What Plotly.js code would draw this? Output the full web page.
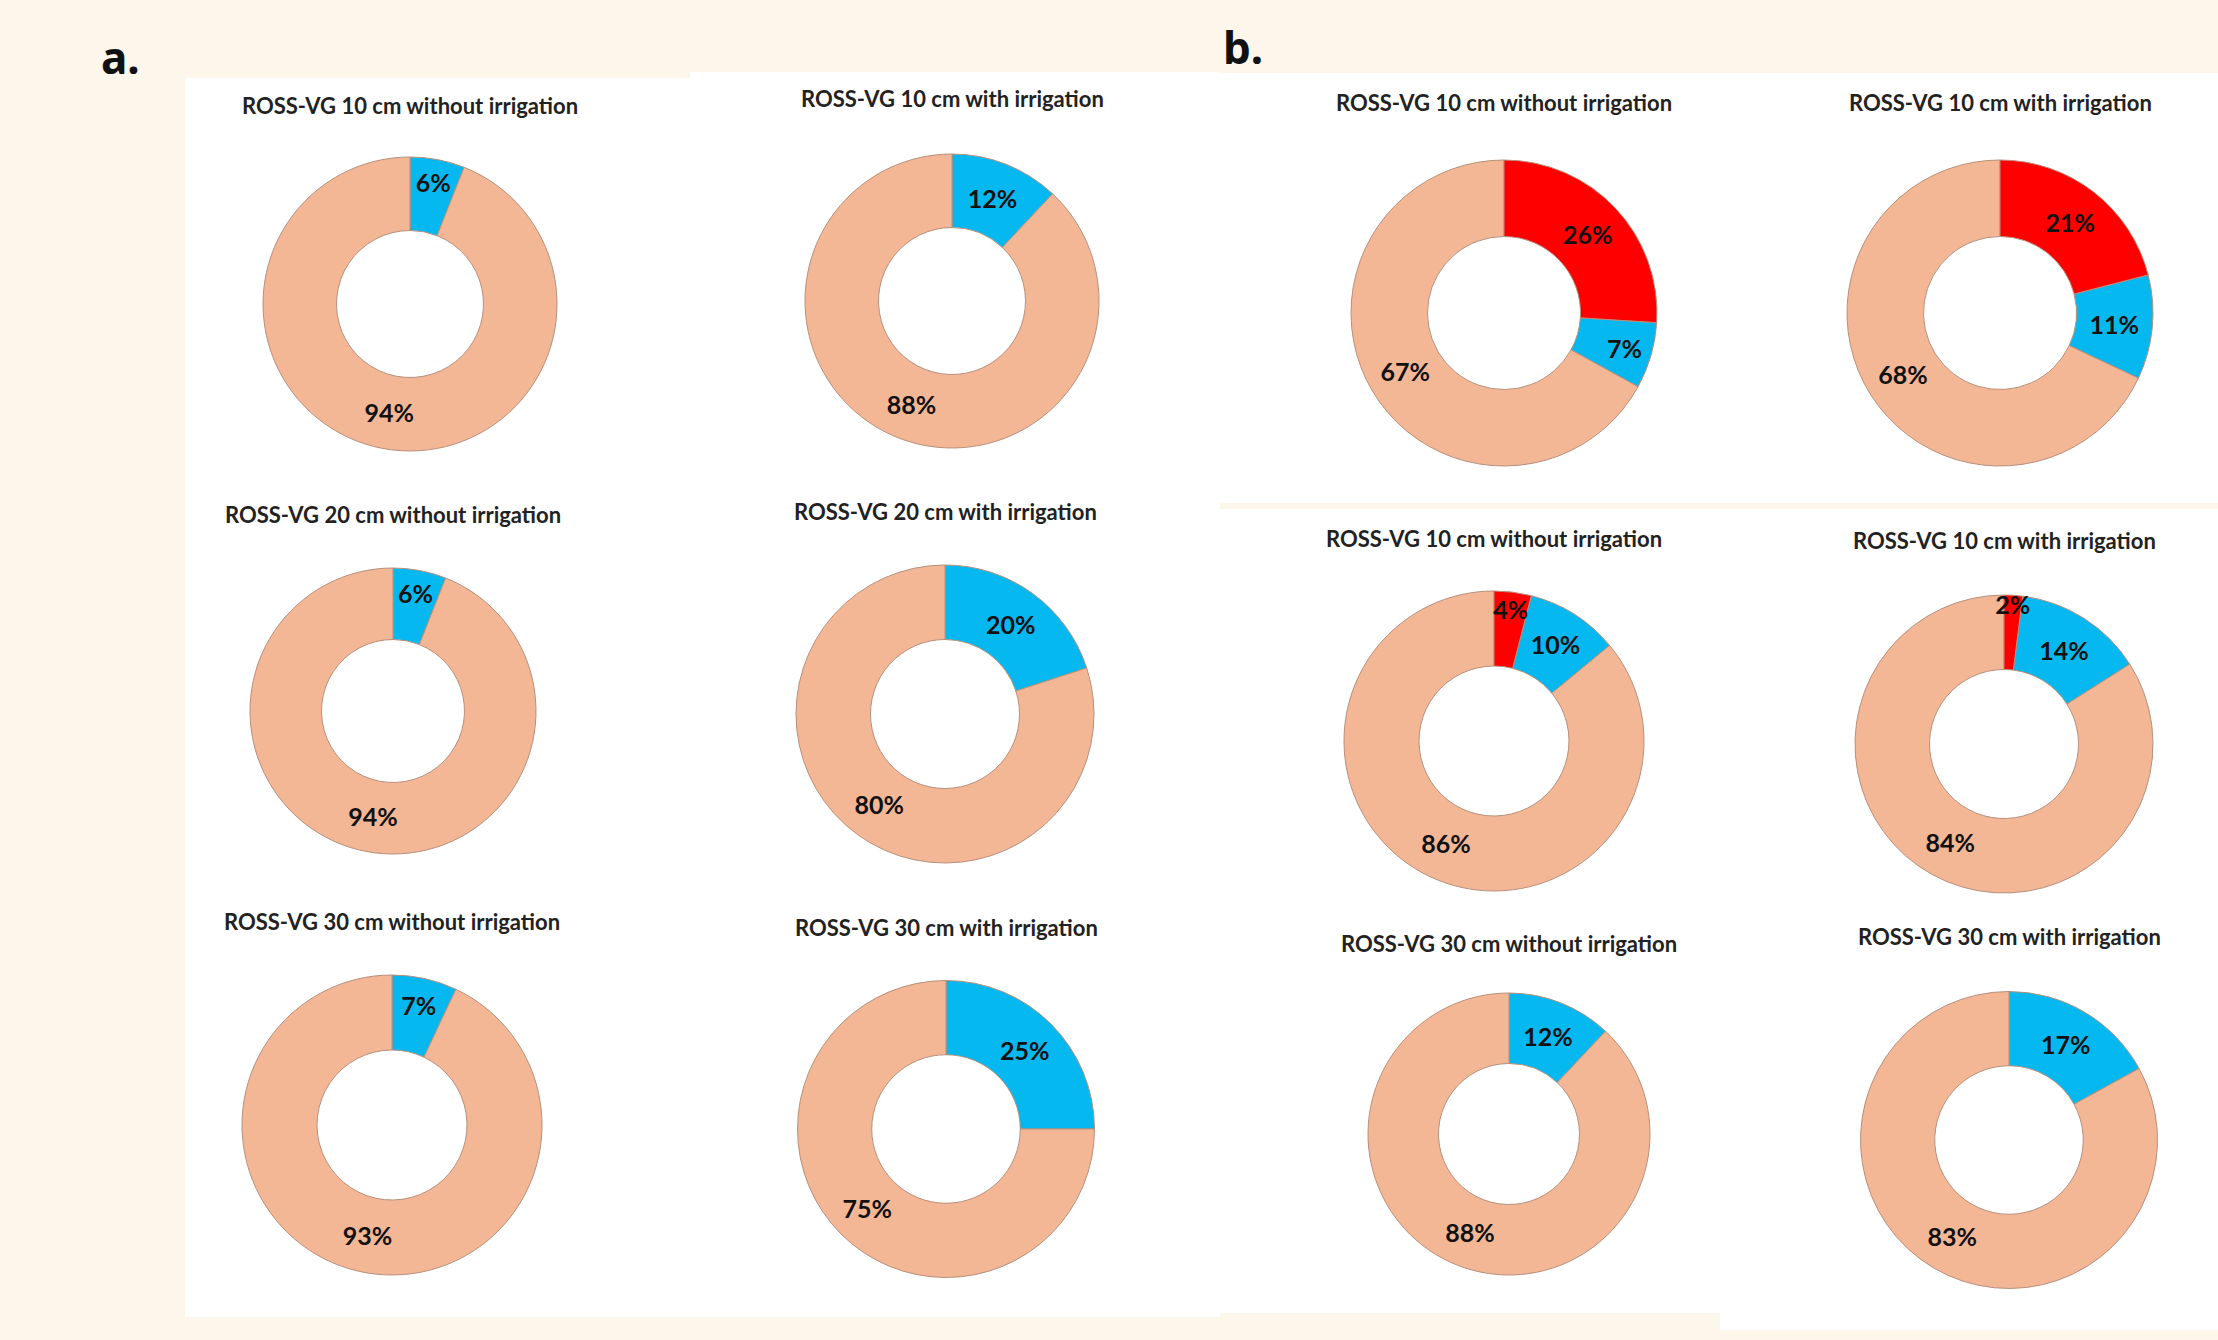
<!DOCTYPE html>
<html>
<head>
<meta charset="utf-8">
<script src="https://cdn.plot.ly/plotly-3.0.1.min.js"></script>
<style>
  html, body { margin: 0; padding: 0; background: #fdf6ea; }
  #chart { width: 2218px; height: 1340px; }
</style>
</head>
<body>
<div id="chart"></div>
<script>
// ---------- DATA ----------
const titles = [
  "ROSS-VG 10 cm without irrigation", "ROSS-VG 10 cm with irrigation",
  "ROSS-VG 20 cm without irrigation", "ROSS-VG 20 cm with irrigation",
  "ROSS-VG 30 cm without irrigation", "ROSS-VG 30 cm with irrigation",
  "ROSS-VG 10 cm without irrigation", "ROSS-VG 10 cm with irrigation",
  "ROSS-VG 10 cm without irrigation", "ROSS-VG 10 cm with irrigation",
  "ROSS-VG 30 cm without irrigation", "ROSS-VG 30 cm with irrigation"
];
const panelLetters = ["a.", "b."];

// panel a: blue share, tan share
const aBlue = [6, 12, 6, 20, 7, 25];
const aTan  = [94, 88, 94, 80, 93, 75];
// panel b: red share, blue share, tan share
const bRed  = [26, 21, 4, 2, 0, 0];
const bBlue = [7, 11, 10, 14, 12, 17];
const bTan  = [67, 68, 86, 84, 88, 83];

// ---------- LAYOUT (pixel geometry of each donut: centre x, centre y, diameter, title y) ----------
const W = 2218, H = 1340;
const geom = [
  [410, 304, 294, 105], [952, 301, 294, 99],
  [393, 711, 286, 515], [945, 714, 298, 511],
  [392, 1125, 300, 921], [946, 1129, 297, 927],
  [1504, 313, 306, 103], [2000, 313, 306, 103],
  [1494, 741, 300, 538], [2004, 744, 298, 540],
  [1509, 1134, 282, 943], [2009, 1140, 297, 936]
];

const TAN = "#f3b796", BLUE = "#05b8f0", RED = "#fe0000";
const FONT = "Lato, 'Liberation Sans', Arial, sans-serif";

const traces = [];
const annotations = [];

// slices are given in drawing order; `startShare` is the share (in %) that
// precedes the first given slice clockwise from 12 o'clock
function addDonut(i, labels, values, colors, startShare) {
  const [cx, cy, d, ty] = geom[i];
  const L = [], V = [], C = [];
  values.forEach((v, k) => { if (v > 0) { L.push(labels[k]); V.push(v); C.push(colors[k]); } });
  traces.push({
    type: "pie",
    labels: L, values: V,
    hole: 0.5,
    sort: false,
    direction: "clockwise",
    rotation: startShare * 3.6,
    marker: { colors: C, line: { color: "#b7907c", width: 1 } },
    texttemplate: "%{value}%",
    textposition: "inside",
    insidetextorientation: "horizontal",
    textfont: { family: FONT, size: 25, color: "#111111", weight: "bold" },
    hoverinfo: "skip",
    showlegend: false,
    domain: {
      x: [(cx - d / 2) / W, (cx + d / 2) / W],
      y: [1 - (cy + d / 2) / H, 1 - (cy - d / 2) / H]
    }
  });
  annotations.push({
    text: "<b>" + titles[i] + "</b>",
    xref: "paper", yref: "paper",
    x: cx / W, y: 1 - ty / H,
    xanchor: "center", yanchor: "middle",
    showarrow: false,
    font: { family: FONT, size: 22, color: "#222222" }
  });
}

for (let i = 0; i < 6; i++) {
  addDonut(i, ["Blue", "Tan"], [aBlue[i], aTan[i]], [BLUE, TAN], 0);
}
// red is drawn last (so its label stays on top) but still starts at 12 o'clock
for (let i = 0; i < 6; i++) {
  addDonut(6 + i, ["Blue", "Tan", "Red"], [bBlue[i], bTan[i], bRed[i]], [BLUE, TAN, RED], bRed[i]);
}

// panel letters
[[120, 57], [1243, 47]].forEach((p, k) => {
  annotations.push({
    text: "<b>" + panelLetters[k] + "</b>",
    xref: "paper", yref: "paper",
    x: p[0] / W, y: 1 - p[1] / H,
    xanchor: "center", yanchor: "middle",
    showarrow: false,
    font: { family: "'Noto Sans', 'DejaVu Sans', sans-serif", size: 44, color: "#111111" }
  });
});

// white panel backgrounds (pixel boxes: x0, y0, x1, y1)
const boxes = [
  [185, 78, 690, 1317],
  [690, 72, 1220, 1317],
  [1220, 73, 2218, 503],
  [1220, 509, 1720, 1313],
  [1720, 509, 2218, 1330]
];
const shapes = boxes.map(b => ({
  type: "rect", xref: "paper", yref: "paper", layer: "below",
  x0: b[0] / W, x1: b[2] / W, y0: 1 - b[3] / H, y1: 1 - b[1] / H,
  fillcolor: "#ffffff", line: { width: 0 }
}));

const layout = {
  width: W, height: H,
  margin: { l: 0, r: 0, t: 0, b: 0 },
  paper_bgcolor: "#fdf6ea",
  plot_bgcolor: "#fdf6ea",
  uniformtext: { mode: "show", minsize: 25 },
  annotations: annotations,
  shapes: shapes,
  showlegend: false
};

Plotly.newPlot("chart", traces, layout, { displayModeBar: false, staticPlot: true });
</script>
</body>
</html>
